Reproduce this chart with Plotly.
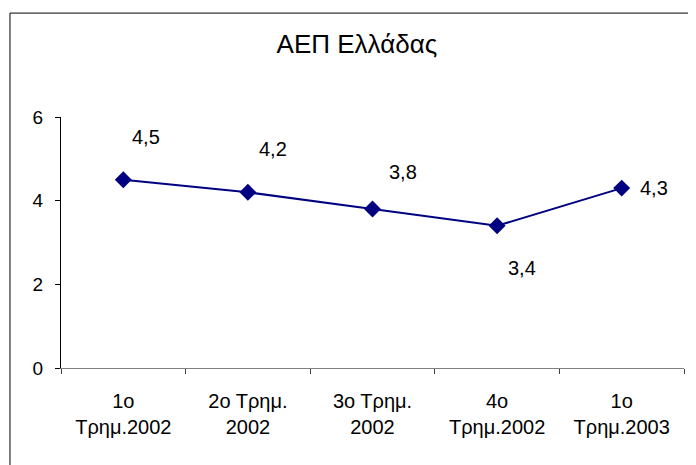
import plotly.graph_objects as go

categories = ["1ο<br>Τρημ.2002", "2ο Τρημ.<br>2002", "3ο Τρημ.<br>2002", "4ο<br>Τρημ.2002", "1ο<br>Τρημ.2003"]
values = [4.5, 4.2, 3.8, 3.4, 4.3]
y_ticks = [0, 2, 4, 6]
title_text = "ΑΕΠ Ελλάδας"

# label offsets in pixels (x, y) relative to each point
label_dx = [23, 25, 30, 25, 32]
label_dy = [43, 43, 37, -42, 0]

FONT = "Liberation Sans, Arial, sans-serif"

# page body has an 8px margin, so the figure is drawn 8px smaller
W, H = 688, 457

fig = go.Figure()
fig.add_trace(go.Scatter(
    x=categories, y=values, mode="lines+markers",
    line=dict(color="#000080", width=2),
    marker=dict(symbol="diamond", size=13, color="#000080"),
    showlegend=False, hoverinfo="skip", cliponaxis=False,
))

for c, v, dx, dy in zip(categories, values, label_dx, label_dy):
    fig.add_annotation(
        x=c, y=v, xref="x", yref="y",
        text=f"{v:.1f}".replace(".", ","),
        showarrow=False, xshift=dx, yshift=dy,
        font=dict(family=FONT, size=20, color="black"),
    )

fig.add_shape(type="rect", xref="paper", yref="paper",
              x0=-0.0819, x1=1.0177, y0=-0.45, y1=1.414,
              line=dict(color="black", width=1), fillcolor="rgba(0,0,0,0)", layer="above")

fig.update_layout(
    width=W, height=H,
    margin=dict(l=53, r=12, t=109, b=97),
    paper_bgcolor="white", plot_bgcolor="white",
    font=dict(family=FONT, size=19, color="black"),
    title=dict(text=title_text, x=0.475, xref="paper", xanchor="center",
               y=1 - 36 / H, yref="container", yanchor="middle",
               font=dict(family=FONT, size=26, color="black")),
    xaxis=dict(
        type="category", tickson="boundaries",
        showline=True, linecolor="#808080", linewidth=1,
        ticks="outside", ticklen=5, tickcolor="#404040", tickwidth=1,
        showgrid=False, zeroline=False,
        tickfont=dict(family=FONT, size=20, color="black"),
        ticklabelstandoff=15,
        range=[-0.5, 4.5],
    ),
    yaxis=dict(
        range=[0, 6], tickvals=y_ticks, ticktext=[str(t) for t in y_ticks],
        showline=True, linecolor="black", linewidth=1,
        ticks="outside", ticklen=5, tickcolor="black",
        showgrid=False, zeroline=False,
        tickfont=dict(family=FONT, size=19, color="black"),
        ticklabelstandoff=8,
    ),
)

fig.write_html("out.html")
